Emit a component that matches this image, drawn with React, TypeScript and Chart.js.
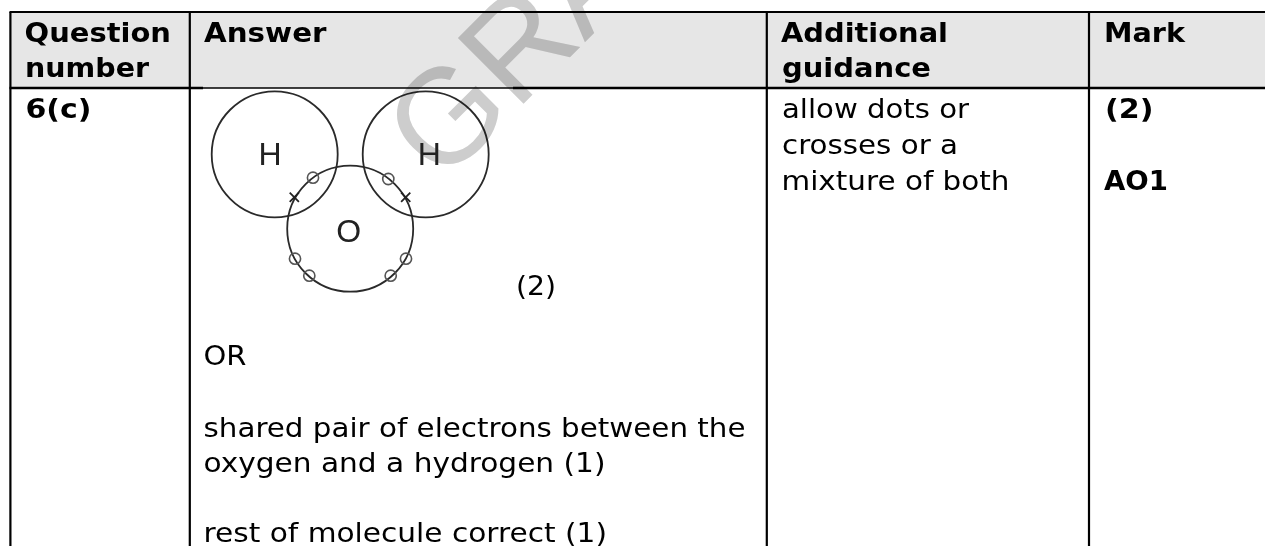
import React, { useEffect, useRef } from "react";
import { Chart, registerables } from "chart.js";

Chart.register(...registerables);

const WIDTH = 1265;
const HEIGHT = 546;

// Table rules: x1, y1, x2, y2, line width
const tableRules = [
  [9.5, 12, 1265, 12, 2.2],
  [9.5, 88, 203, 88, 2.4],
  [203, 88, 513, 88, 1.3],
  [513, 88, 1265, 88, 2.4],
  [10.4, 12, 10.4, 546, 2.2],
  [189.8, 12, 189.8, 546, 2.2],
  [766.8, 12, 766.8, 546, 2.2],
  [1089, 12, 1089, 546, 2.2],
];
const headerBand = [12, 88];

// Molecule diagram
const atomShells = [
  { x: 274.7, y: 154.3 },
  { x: 425.7, y: 154.3 },
  { x: 350.2, y: 228.7 },
];
const dotElectrons = [
  { x: 313, y: 177.7 },
  { x: 388.3, y: 179 },
  { x: 295, y: 258.7 },
  { x: 309.3, y: 275.7 },
  { x: 406, y: 258.7 },
  { x: 390.7, y: 275.7 },
];
const crossElectrons = [
  { x: 294.3, y: 197.3 },
  { x: 405.7, y: 197.3 },
];

// Text: string, left, baseline, right edge, bold
const tableTexts: [string, number, number, number, boolean][] = [
  ["Question", 24.5, 41.7, 171, true],
  ["number", 25, 77.3, 149, true],
  ["Answer", 204, 41.7, 326.5, true],
  ["Additional", 781, 41.7, 948, true],
  ["guidance", 782, 77.3, 931, true],
  ["Mark", 1104, 41.7, 1185, true],
  ["6(c)", 25.5, 117.5, 91.5, true],
  ["(2)", 1105, 117.5, 1153.5, true],
  ["AO1", 1104, 190, 1168, true],
  ["allow dots or", 782, 117.5, 969, false],
  ["crosses or a", 782, 153.8, 958, false],
  ["mixture of both", 781.5, 190, 1009.5, false],
  ["(2)", 516, 294.5, 556, false],
  ["OR", 203.5, 364.5, 246.5, false],
  ["shared pair of electrons between the", 203.5, 437, 745.5, false],
  ["oxygen and a hydrogen (1)", 203.5, 471.8, 605.5, false],
  ["rest of molecule correct (1)", 203.5, 542, 607, false],
];
const atomLabels: [string, number, number][] = [
  ["H", 270, 165],
  ["H", 429.3, 165],
  ["O", 348.7, 241.5],
];
const watermark = { text: "GRA", x: 441.5, y: 185.8, angle: -45, size: 135 };

const tablePlugin = {
  id: "tableText",
  afterDatasetsDraw(chart: any) {
    const { ctx, scales } = chart;
    const px = (v: number) => scales.x.getPixelForValue(v);
    const py = (v: number) => scales.y.getPixelForValue(v);
    ctx.save();
    ctx.textBaseline = "alphabetic";
    ctx.textAlign = "left";

    ctx.save();
    ctx.globalCompositeOperation = "multiply";
    ctx.fillStyle = "#cdcdcd";
    ctx.font = `${watermark.size}px "Liberation Sans"`;
    ctx.translate(px(watermark.x), py(watermark.y));
    ctx.rotate((watermark.angle * Math.PI) / 180);
    ctx.fillText(watermark.text, 0, 0);
    ctx.restore();

    ctx.fillStyle = "#000";
    for (const [text, left, base, right, bold] of tableTexts) {
      ctx.font = `${bold ? "bold " : ""}27px "DejaVu Sans"`;
      const m = ctx.measureText(text).width;
      ctx.save();
      ctx.translate(px(left), py(base));
      ctx.scale((px(right) - px(left)) / m, 1);
      ctx.fillText(text, 0, 0);
      ctx.restore();
    }

    ctx.fillStyle = "#222";
    ctx.textAlign = "center";
    ctx.font = `32px "Liberation Sans"`;
    for (const [text, x, y] of atomLabels) ctx.fillText(text, px(x), py(y));
    ctx.restore();
  },
};

export default function App() {
  const ref = useRef<HTMLCanvasElement | null>(null);
  useEffect(() => {
    if (!ref.current) return;
    const ruleSets = tableRules.map(([x1, y1, x2, y2, w]) => ({
      type: "line" as const,
      data: [
        { x: x1, y: y1 },
        { x: x2, y: y2 },
      ],
      borderColor: "#000",
      borderWidth: w,
      pointRadius: 0,
      order: 5,
    }));
    const chart = new Chart(ref.current, {
      type: "scatter",
      data: {
        datasets: [
          {
            type: "line",
            data: [
              { x: 10, y: headerBand[0] },
              { x: WIDTH, y: headerBand[0] },
            ],
            borderWidth: 0,
            pointRadius: 0,
            backgroundColor: "#e6e6e6",
            fill: { value: headerBand[1] },
            order: 10,
          },
          ...ruleSets,
          {
            data: atomShells,
            pointRadius: 63,
            pointBorderWidth: 1.8,
            pointBorderColor: "#2a2a2a",
            pointBackgroundColor: "transparent",
            order: 3,
          },
          {
            data: dotElectrons,
            pointRadius: 5.6,
            pointBorderWidth: 1.6,
            pointBorderColor: "#555",
            pointBackgroundColor: "transparent",
            order: 2,
          },
          {
            data: crossElectrons,
            pointStyle: "crossRot",
            pointRadius: 6.5,
            pointBorderWidth: 1.8,
            pointBorderColor: "#222",
            order: 1,
          },
        ] as any,
      },
      options: {
        animation: false,
        responsive: false,
        maintainAspectRatio: false,
        layout: { padding: 0, autoPadding: false },
        events: [],
        plugins: { legend: { display: false }, tooltip: { enabled: false } },
        scales: {
          x: { type: "linear", min: 0, max: WIDTH, display: false },
          y: { type: "linear", min: 0, max: HEIGHT, reverse: true, display: false },
        },
      },
      plugins: [tablePlugin],
    });
    return () => chart.destroy();
  }, []);
  return (
    <div style={{ position: "absolute", left: 0, top: 0, width: WIDTH, height: HEIGHT, background: "#fff" }}>
      <canvas ref={ref} width={WIDTH} height={HEIGHT} style={{ display: "block" }} />
    </div>
  );
}
